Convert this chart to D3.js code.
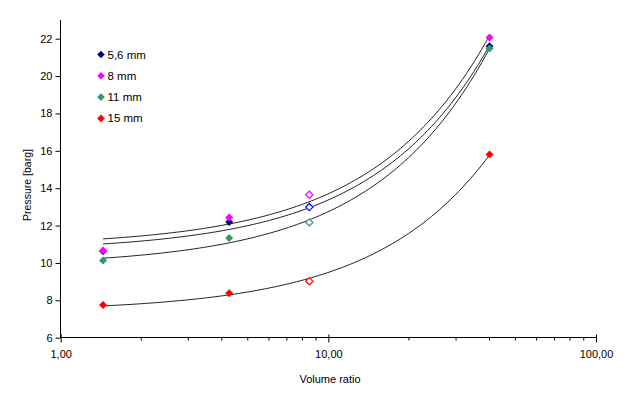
<!DOCTYPE html>
<html><head><meta charset="utf-8">
<script src="https://cdn.jsdelivr.net/npm/d3@7"></script>
<style>body{margin:0;background:#fff}svg{display:block}text{font-family:"Liberation Sans",Arial,sans-serif;fill:#000}</style>
</head><body><svg id="c" width="642" height="394"></svg>
<script>
const volumeRatio = [1.44, 4.26, 8.49, 40];
const seriesNames = ["5,6 mm", "8 mm", "11 mm", "15 mm"];
const p56 = [10.62, 12.19, 12.99, 21.59];
const p8 = [10.66, 12.43, 13.65, 22.07];
const p11 = [10.13, 11.33, 12.17, 21.48];
const p15 = [7.75, 8.38, 9.02, 15.80];
const fillColors = ["#000080", "#FF00FF", "#339966", "#FF0000"];
const openColors = ["#0000FF", "#FF00FF", "#339966", "#FF0000"];
const openIndex = 2;
const yTicks = [6, 8, 10, 12, 14, 16, 18, 20, 22];
const xTickLabels = ["1,00", "10,00", "100,00"];

const series = [p56, p8, p11, p15];
const svg = d3.select("#c");
const x = d3.scaleLog().domain([1, 100]).range([60.7, 596]);
const y = d3.scaleLinear().domain([6, 23]).range([337.7, 20]);

// axes
const gy = svg.append("g").attr("transform", "translate(60.5,0)")
  .call(d3.axisLeft(y).tickValues(yTicks).tickSize(5).tickPadding(3).tickFormat(d3.format("d")));
gy.select(".domain").attr("d", `M0,${y(23)}V${y(6)}`).attr("stroke", "#000");
gy.selectAll(".tick line").attr("stroke", "#000");
gy.selectAll("text").style("font-size", "11px").attr("font-family", null);

const minor = [];
for (let d = 1; d <= 10; d *= 10) for (let k = 2; k <= 9; k++) minor.push(d * k);
const gx = svg.append("g").attr("transform", "translate(0,337.5)");
gx.call(d3.axisBottom(x).tickValues([1, 10, 100]).tickSize(5).tickPadding(8)
  .tickFormat((d, i) => xTickLabels[i]));
gx.select(".domain").attr("d", `M${x(1)},0H${x(100)}`).attr("stroke", "#000");
gx.selectAll(".tick line").attr("stroke", "#000").attr("y1", -3);
gx.selectAll("text").style("font-size", "11px");
gx.selectAll(".minor").data(minor).enter().append("line")
  .attr("x1", d => x(d)).attr("x2", d => x(d)).attr("y1", 0).attr("y2", 3).attr("stroke", "#000");

// trendlines (linear least squares on the data, drawn on log axis)
series.forEach(vals => {
  const mx = d3.mean(volumeRatio), my = d3.mean(vals);
  let sxy = 0, sxx = 0;
  vals.forEach((v, i) => { sxy += (volumeRatio[i] - mx) * (v - my); sxx += (volumeRatio[i] - mx) ** 2; });
  const b = sxy / sxx, a = my - b * mx;
  const x0 = d3.min(volumeRatio), x1 = d3.max(volumeRatio);
  const pts = d3.range(0, 101).map(t => { const xv = x0 * Math.pow(x1 / x0, t / 100); return [x(xv), y(a + b * xv)]; });
  svg.append("path").attr("d", d3.line()(pts)).attr("fill", "none").attr("stroke", "#222").attr("stroke-width", 1);
});

// markers
const diamond = (cx, cy, r) => `M${cx},${cy - r}L${cx + r},${cy}L${cx},${cy + r}L${cx - r},${cy}Z`;
[0, 2, 3, 1].forEach(s => {
  series[s].forEach((v, i) => {
    const cx = x(volumeRatio[i]), cy = y(v);
    if (i === openIndex) {
      svg.append("path").attr("d", diamond(cx, cy, 3.6)).attr("fill", "#fff")
        .attr("stroke", openColors[s]).attr("stroke-width", 1.2);
    } else {
      svg.append("path").attr("d", diamond(cx, cy, 4)).attr("fill", fillColors[s]);
    }
  });
});

// legend
seriesNames.forEach((nm, i) => {
  const ly = 54.5 + i * 21.3;
  svg.append("path").attr("d", diamond(101, ly, 3.8)).attr("fill", fillColors[i]);
  svg.append("text").attr("x", 107.5).attr("y", ly + 4).style("font-size", "11.5px").text(nm);
});

// titles
svg.append("text").attr("x", 330).attr("y", 383).attr("text-anchor", "middle").style("font-size", "11px").text("Volume ratio");
svg.append("text").attr("transform", "translate(31,185) rotate(-90)").attr("text-anchor", "middle").style("font-size", "10.5px").text("Pressure [barg]");
</script></body></html>
